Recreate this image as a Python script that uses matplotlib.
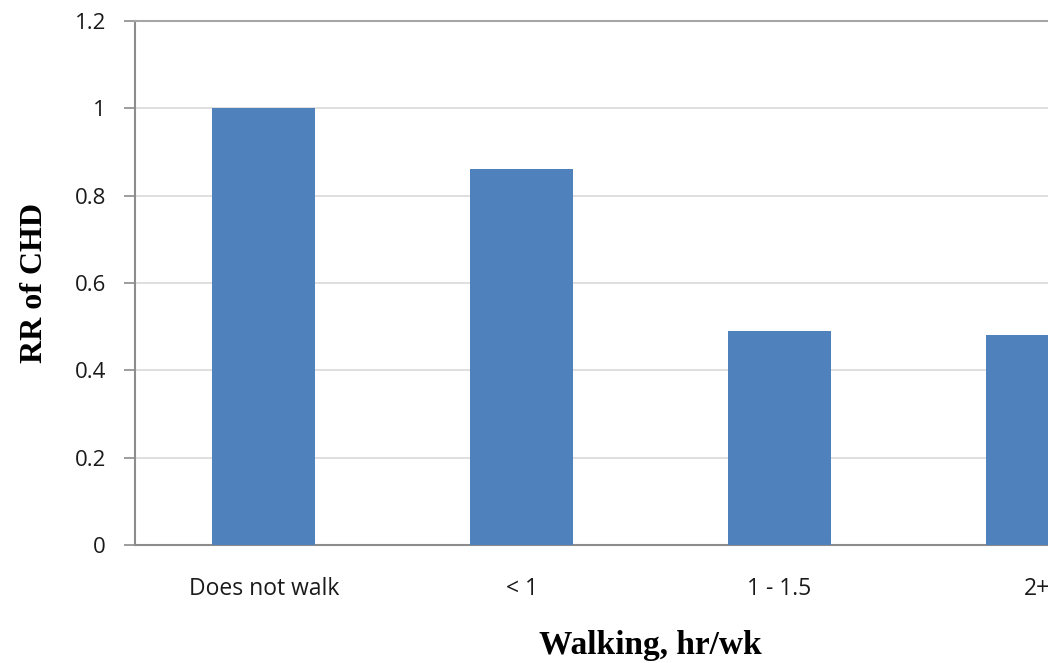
import matplotlib
matplotlib.use("Agg")
import matplotlib.pyplot as plt

categories = ["Does not walk", "< 1", "1 - 1.5", "2+"]
rr_values = [1.0, 0.86, 0.49, 0.48]
y_ticks = [0, 0.2, 0.4, 0.6, 0.8, 1.0, 1.2]
y_tick_labels = ["0", "0.2", "0.4", "0.6", "0.8", "1", "1.2"]

W, H = 1048, 663
fig = plt.figure(figsize=(W / 100, H / 100), dpi=100)
fig.patch.set_facecolor("white")

# plot area runs past the right edge of the figure
left_px, right_px, top_px, bottom_px = 135, 1166, 21, 545
ax = fig.add_axes([left_px / W, 1 - bottom_px / H,
                   (right_px - left_px) / W, (bottom_px - top_px) / H])

x = list(range(len(categories)))
ax.bar(x, rr_values, width=0.40, color="#4F81BD", zorder=3)

ax.set_xlim(-0.5, len(categories) - 0.5)
ax.set_ylim(0, 1.2)
ax.set_yticks(y_ticks)
ax.set_yticklabels(y_tick_labels)
ax.set_xticks(x)
ax.set_xticklabels(categories)

ax.grid(axis="y", color="#d9d9d9", linewidth=1.2, zorder=0)
ax.set_axisbelow(True)

ax.spines["right"].set_visible(False)
ax.spines["top"].set_color("#a6a6a6")
ax.spines["top"].set_linewidth(1.5)
for side in ["left", "bottom"]:
    ax.spines[side].set_color("#8c8c8c")
    ax.spines[side].set_linewidth(1.5)

ax.tick_params(axis="y", direction="out", length=8, width=1.2, color="#8c8c8c",
               pad=13, labelsize=16, labelcolor="#1a1a1a")
ax.tick_params(axis="x", length=0, pad=23, labelsize=16.5, labelcolor="#1a1a1a")
for lbl in ax.get_xticklabels() + ax.get_yticklabels():
    lbl.set_family(["Open Sans", "DejaVu Sans"])

ax.set_xlabel("Walking, hr/wk", fontsize=24, fontweight="bold",
              family="Liberation Serif", labelpad=21)
ax.set_ylabel("RR of CHD", fontsize=23, fontweight="bold",
              family="Liberation Serif", labelpad=18)

fig.savefig("out.png", dpi=100)
